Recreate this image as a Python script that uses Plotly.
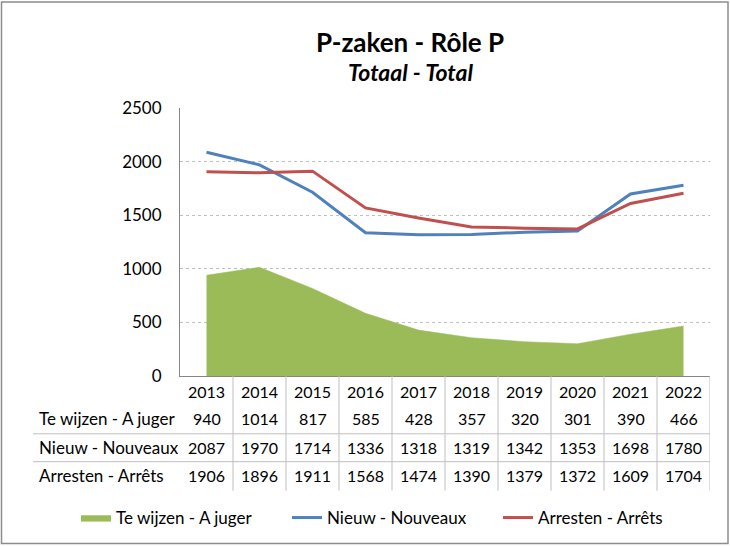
import plotly.graph_objects as go

years = ['2013', '2014', '2015', '2016', '2017', '2018', '2019', '2020', '2021', '2022']
te_wijzen = [940, 1014, 817, 585, 428, 357, 320, 301, 390, 466]
nieuw = [2087, 1970, 1714, 1336, 1318, 1319, 1342, 1353, 1698, 1780]
arresten = [1906, 1896, 1911, 1568, 1474, 1390, 1379, 1372, 1609, 1704]
series_names = ['Te wijzen - A juger', 'Nieuw - Nouveaux', 'Arresten - Arrêts']
y_ticks = [0, 500, 1000, 1500, 2000, 2500]

W, H = 730, 547
L, R, T, B = 180, 710, 108, 377
FONT = 'Lato, "Open Sans", sans-serif'
GREEN, BLUE, RED = '#9BBB59', '#4F81BD', '#C0504D'
LINEC = '#BFBFBF'


def xp(px):
    return (px - L) / (R - L)


def yp(py):
    return (B - py) / (B - T)


fig = go.Figure()
fig.add_trace(go.Scatter(x=years, y=te_wijzen, name=series_names[0], mode='lines',
                         fill='tozeroy', fillcolor=GREEN, line=dict(color=GREEN, width=0.5)))
fig.add_trace(go.Scatter(x=years, y=nieuw, name=series_names[1], mode='lines',
                         line=dict(color=BLUE, width=3)))
fig.add_trace(go.Scatter(x=years, y=arresten, name=series_names[2], mode='lines',
                         line=dict(color=RED, width=3)))

annotations = []
# title
annotations.append(dict(text='<b>P-zaken - Rôle P</b>', xref='paper', yref='paper',
                        x=xp(410), y=yp(42), xanchor='center', yanchor='middle', showarrow=False,
                        font=dict(family=FONT, size=26, color='black')))
annotations.append(dict(text='<b><i>Totaal - Total</i></b>', xref='paper', yref='paper',
                        x=xp(411), y=yp(72), xanchor='center', yanchor='middle', showarrow=False,
                        font=dict(family=FONT, size=23, color='black')))

# data table
row_y = [393, 420, 449, 477]
for i, yr in enumerate(years):
    annotations.append(dict(text=yr, xref='x', yref='paper', x=i, y=yp(row_y[0]),
                            xanchor='center', yanchor='middle', showarrow=False,
                            font=dict(family=FONT, size=16, color='black')))
for r, (name, vals) in enumerate(zip(series_names, [te_wijzen, nieuw, arresten])):
    annotations.append(dict(text=name, xref='paper', yref='paper', x=xp(37), y=yp(row_y[r + 1]),
                            xanchor='left', yanchor='middle', showarrow=False,
                            font=dict(family=FONT, size=17, color='black')))
    for i, v in enumerate(vals):
        annotations.append(dict(text=str(v), xref='x', yref='paper', x=i, y=yp(row_y[r + 1]),
                                xanchor='center', yanchor='middle', showarrow=False,
                                font=dict(family=FONT, size=16, color='black')))

shapes = []
for hy in [435, 463]:
    shapes.append(dict(type='line', xref='paper', yref='paper', x0=xp(33), x1=1, y0=yp(hy), y1=yp(hy),
                       line=dict(color=LINEC, width=1)))
for k in range(len(years)):
    shapes.append(dict(type='line', xref='x', yref='paper', x0=k + 0.5, x1=k + 0.5, y0=0, y1=yp(492),
                       line=dict(color=LINEC, width=1)))
# outer frame
shapes.append(dict(type='rect', xref='paper', yref='paper', x0=xp(1.5), x1=xp(728), y0=yp(1.5), y1=yp(545),
                   line=dict(color='#8C8C8C', width=1.5), fillcolor='rgba(0,0,0,0)', layer='above'))

fig.update_layout(
    width=W, height=H,
    margin=dict(l=L, r=W - R, t=T, b=H - B, pad=0),
    paper_bgcolor='white', plot_bgcolor='white',
    font=dict(family=FONT, size=17, color='black'),
    showlegend=True,
    legend=dict(orientation='h', x=xp(76), xanchor='left', y=yp(518), yanchor='middle',
                entrywidth=166, entrywidthmode='pixels', font=dict(family=FONT, size=17),
                bgcolor='rgba(0,0,0,0)', traceorder='normal'),
    annotations=annotations, shapes=shapes,
    xaxis=dict(type='category', range=[-0.5, 9.5], showticklabels=False, showgrid=False,
               showline=True, linecolor='#868686', linewidth=1, ticks='', zeroline=False, fixedrange=True),
    yaxis=dict(range=[0, 2500], tickvals=y_ticks, showgrid=True, gridcolor='#BFBFBF', griddash='dot',
               gridwidth=1, showline=True, linecolor='#868686', linewidth=1, ticks='', zeroline=False,
               tickfont=dict(family=FONT, size=17, color='black'), ticklabelstandoff=14),
)

fig.write_html('out.html', config={'displayModeBar': False},
               post_script="document.body.style.margin='0';")
